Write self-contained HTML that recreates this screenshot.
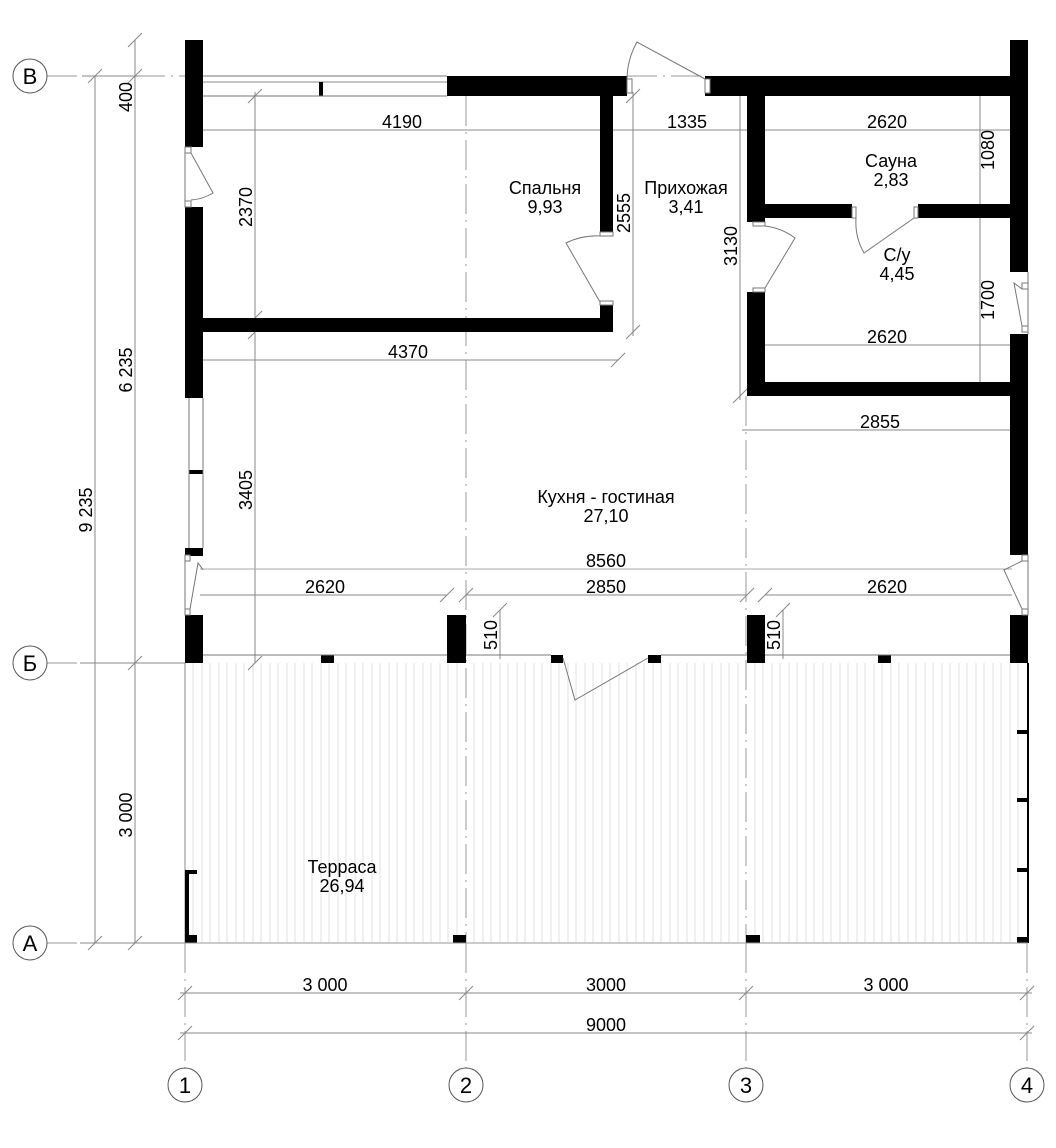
<!DOCTYPE html>
<html><head><meta charset="utf-8"><style>
html,body{margin:0;padding:0;background:#fff}
svg{display:block}
text{font-family:"Liberation Sans","DejaVu Sans",sans-serif;font-size:18px;fill:#000}
.d{stroke:#888;stroke-width:1;fill:none}
.g{stroke:#999;stroke-width:1;fill:none;stroke-dasharray:30 6 2 6}
.b{fill:#000}
.thin{stroke:#777;stroke-width:1;fill:none}
</style></head><body>
<svg width="1056" height="1148" viewBox="0 0 1056 1148" xmlns="http://www.w3.org/2000/svg">
<!-- grid lines -->
<line class="g" x1="47" y1="76" x2="185" y2="76"/>
<line class="g" x1="47" y1="663" x2="185" y2="663"/>
<line class="g" x1="47" y1="943" x2="185" y2="943"/>
<line class="g" x1="627" y1="76" x2="705" y2="76"/>
<line class="g" x1="466" y1="96" x2="466" y2="943"/>
<line class="g" x1="746" y1="396" x2="746" y2="943"/>
<line class="g" x1="185" y1="943" x2="185" y2="1068"/>
<line class="g" x1="466" y1="943" x2="466" y2="1068"/>
<line class="g" x1="746" y1="943" x2="746" y2="1068"/>
<line class="g" x1="1027" y1="943" x2="1027" y2="1068"/>
<!-- grid circles -->
<g fill="#fff" stroke="#555">
<circle cx="30" cy="76" r="17"/><circle cx="30" cy="663" r="17"/><circle cx="30" cy="943" r="17"/>
<circle cx="185" cy="1085" r="17"/><circle cx="466" cy="1085" r="17"/><circle cx="746" cy="1085" r="17"/><circle cx="1027" cy="1085" r="17"/>
</g>
<g text-anchor="middle">
<text x="30" y="84" style="font-size:22px">В</text><text x="30" y="671" style="font-size:22px">Б</text><text x="30" y="951" style="font-size:22px">А</text>
<text x="185" y="1093" style="font-size:22px">1</text><text x="466" y="1093" style="font-size:22px">2</text><text x="746" y="1093" style="font-size:22px">3</text><text x="1027" y="1093" style="font-size:22px">4</text>
</g>
<!-- terrace -->
<g stroke="#e2e2e2" stroke-width="1">
<line x1="193" y1="663" x2="193" y2="943"/><line x1="202" y1="663" x2="202" y2="943"/><line x1="210" y1="663" x2="210" y2="943"/><line x1="219" y1="663" x2="219" y2="943"/><line x1="227" y1="663" x2="227" y2="943"/><line x1="236" y1="663" x2="236" y2="943"/><line x1="244" y1="663" x2="244" y2="943"/><line x1="253" y1="663" x2="253" y2="943"/><line x1="261" y1="663" x2="261" y2="943"/><line x1="270" y1="663" x2="270" y2="943"/><line x1="278" y1="663" x2="278" y2="943"/><line x1="287" y1="663" x2="287" y2="943"/><line x1="295" y1="663" x2="295" y2="943"/><line x1="304" y1="663" x2="304" y2="943"/><line x1="312" y1="663" x2="312" y2="943"/><line x1="321" y1="663" x2="321" y2="943"/><line x1="329" y1="663" x2="329" y2="943"/><line x1="338" y1="663" x2="338" y2="943"/><line x1="346" y1="663" x2="346" y2="943"/><line x1="355" y1="663" x2="355" y2="943"/><line x1="363" y1="663" x2="363" y2="943"/><line x1="372" y1="663" x2="372" y2="943"/><line x1="380" y1="663" x2="380" y2="943"/><line x1="389" y1="663" x2="389" y2="943"/><line x1="397" y1="663" x2="397" y2="943"/><line x1="406" y1="663" x2="406" y2="943"/><line x1="414" y1="663" x2="414" y2="943"/><line x1="423" y1="663" x2="423" y2="943"/><line x1="431" y1="663" x2="431" y2="943"/><line x1="440" y1="663" x2="440" y2="943"/><line x1="448" y1="663" x2="448" y2="943"/><line x1="457" y1="663" x2="457" y2="943"/>
<line x1="474" y1="663" x2="474" y2="943"/><line x1="483" y1="663" x2="483" y2="943"/><line x1="491" y1="663" x2="491" y2="943"/><line x1="500" y1="663" x2="500" y2="943"/><line x1="508" y1="663" x2="508" y2="943"/><line x1="517" y1="663" x2="517" y2="943"/><line x1="525" y1="663" x2="525" y2="943"/><line x1="534" y1="663" x2="534" y2="943"/><line x1="542" y1="663" x2="542" y2="943"/><line x1="551" y1="663" x2="551" y2="943"/><line x1="559" y1="663" x2="559" y2="943"/><line x1="568" y1="663" x2="568" y2="943"/><line x1="576" y1="663" x2="576" y2="943"/><line x1="585" y1="663" x2="585" y2="943"/><line x1="593" y1="663" x2="593" y2="943"/><line x1="602" y1="663" x2="602" y2="943"/><line x1="610" y1="663" x2="610" y2="943"/><line x1="619" y1="663" x2="619" y2="943"/><line x1="627" y1="663" x2="627" y2="943"/><line x1="636" y1="663" x2="636" y2="943"/><line x1="644" y1="663" x2="644" y2="943"/><line x1="653" y1="663" x2="653" y2="943"/><line x1="661" y1="663" x2="661" y2="943"/><line x1="670" y1="663" x2="670" y2="943"/><line x1="678" y1="663" x2="678" y2="943"/><line x1="687" y1="663" x2="687" y2="943"/><line x1="695" y1="663" x2="695" y2="943"/><line x1="704" y1="663" x2="704" y2="943"/><line x1="712" y1="663" x2="712" y2="943"/><line x1="721" y1="663" x2="721" y2="943"/><line x1="729" y1="663" x2="729" y2="943"/><line x1="738" y1="663" x2="738" y2="943"/>
<line x1="755" y1="663" x2="755" y2="943"/><line x1="763" y1="663" x2="763" y2="943"/><line x1="772" y1="663" x2="772" y2="943"/><line x1="780" y1="663" x2="780" y2="943"/><line x1="789" y1="663" x2="789" y2="943"/><line x1="797" y1="663" x2="797" y2="943"/><line x1="806" y1="663" x2="806" y2="943"/><line x1="814" y1="663" x2="814" y2="943"/><line x1="823" y1="663" x2="823" y2="943"/><line x1="831" y1="663" x2="831" y2="943"/><line x1="840" y1="663" x2="840" y2="943"/><line x1="848" y1="663" x2="848" y2="943"/><line x1="857" y1="663" x2="857" y2="943"/><line x1="865" y1="663" x2="865" y2="943"/><line x1="874" y1="663" x2="874" y2="943"/><line x1="882" y1="663" x2="882" y2="943"/><line x1="891" y1="663" x2="891" y2="943"/><line x1="899" y1="663" x2="899" y2="943"/><line x1="908" y1="663" x2="908" y2="943"/><line x1="916" y1="663" x2="916" y2="943"/><line x1="925" y1="663" x2="925" y2="943"/><line x1="933" y1="663" x2="933" y2="943"/><line x1="942" y1="663" x2="942" y2="943"/><line x1="950" y1="663" x2="950" y2="943"/><line x1="959" y1="663" x2="959" y2="943"/><line x1="967" y1="663" x2="967" y2="943"/><line x1="976" y1="663" x2="976" y2="943"/><line x1="984" y1="663" x2="984" y2="943"/><line x1="993" y1="663" x2="993" y2="943"/><line x1="1001" y1="663" x2="1001" y2="943"/><line x1="1010" y1="663" x2="1010" y2="943"/><line x1="1018" y1="663" x2="1018" y2="943"/>
</g>
<line x1="185" y1="663" x2="185" y2="943" stroke="#888"/>
<line x1="1028" y1="663" x2="1028" y2="943" stroke="#000" stroke-width="2"/>
<rect class="b" x="185" y="870" width="4" height="73"/><rect class="b" x="185" y="870" width="12" height="4"/>
<rect class="b" x="185" y="935" width="12" height="8"/>
<rect class="b" x="453" y="935" width="13" height="8"/>
<rect class="b" x="746" y="935" width="14" height="8"/>
<rect class="b" x="1017" y="730" width="11" height="4"/><rect class="b" x="1017" y="798" width="11" height="4"/><rect class="b" x="1017" y="868" width="11" height="4"/><rect class="b" x="1017" y="937" width="11" height="6"/>
<line x1="185" y1="943" x2="1028" y2="943" stroke="#999"/>

<!-- dimension lines -->
<g class="d">
<line x1="95" y1="76" x2="95" y2="943"/><line x1="135" y1="40" x2="135" y2="943"/>
<line x1="88" y1="83" x2="102" y2="69"/><line x1="88" y1="950" x2="102" y2="936"/>
<line x1="128" y1="47" x2="142" y2="33"/><line x1="128" y1="83" x2="142" y2="69"/><line x1="128" y1="670" x2="142" y2="656"/><line x1="128" y1="950" x2="142" y2="936"/>
<line x1="82" y1="76" x2="140" y2="76" /><line x1="80" y1="663" x2="185" y2="663"/><line x1="80" y1="943" x2="185" y2="943"/>
<line x1="180" y1="993" x2="1032" y2="993"/><line x1="180" y1="1033" x2="1032" y2="1033"/>
<line x1="178" y1="1000" x2="192" y2="986"/><line x1="459" y1="1000" x2="473" y2="986"/><line x1="739" y1="1000" x2="753" y2="986"/><line x1="1020" y1="1000" x2="1034" y2="986"/>
<line x1="178" y1="1040" x2="192" y2="1026"/><line x1="1020" y1="1040" x2="1034" y2="1026"/>
<line x1="203" y1="130" x2="1010" y2="130"/>
<line x1="203" y1="82" x2="447" y2="82"/>
<line x1="255" y1="92" x2="255" y2="663"/>
<line x1="203" y1="360" x2="618" y2="360"/><line x1="611" y1="367" x2="625" y2="353"/>
<line x1="633" y1="92" x2="633" y2="336"/><line x1="626" y1="339" x2="640" y2="325"/><line x1="626" y1="103" x2="640" y2="89"/>
<line x1="740" y1="92" x2="740" y2="400"/><line x1="733" y1="403" x2="747" y2="389"/>
<line x1="980" y1="96" x2="980" y2="382"/>
<line x1="765" y1="345" x2="1010" y2="345"/>
<line x1="742" y1="430" x2="1010" y2="430"/>
<line x1="200" y1="569" x2="1012" y2="569" stroke="#aaa"/>
<line x1="200" y1="595" x2="447" y2="595"/><line x1="466" y1="595" x2="747" y2="595"/><line x1="765" y1="595" x2="1012" y2="595"/>
<line x1="440" y1="602" x2="454" y2="588"/><line x1="459" y1="602" x2="473" y2="588"/><line x1="740" y1="602" x2="754" y2="588"/><line x1="758" y1="602" x2="772" y2="588"/>
<line x1="500" y1="610" x2="500" y2="659"/><line x1="493" y1="617" x2="507" y2="603"/>
<line x1="783" y1="610" x2="783" y2="659"/><line x1="776" y1="617" x2="790" y2="603"/>
<line x1="248" y1="103" x2="262" y2="89"/><line x1="248" y1="325" x2="262" y2="311"/><line x1="248" y1="339" x2="262" y2="325"/><line x1="248" y1="670" x2="262" y2="656"/>
</g>
<!-- walls -->
<g class="b">
<rect x="185" y="40" width="18" height="107"/>
<rect x="185" y="207" width="18" height="191"/>
<rect x="185" y="548" width="18" height="8"/>
<rect x="185" y="615" width="18" height="48"/>
<rect x="189" y="470" width="14" height="4"/>
<rect x="447" y="76" width="180" height="20"/>
<rect x="319" y="82" width="4" height="14"/>
<rect x="705" y="76" width="305" height="20"/>
<rect x="1010" y="40" width="18" height="232"/>
<rect x="1010" y="334" width="18" height="221"/>
<rect x="1010" y="615" width="18" height="48"/>
<rect x="600" y="96" width="13" height="136"/>
<rect x="600" y="305" width="13" height="27"/>
<rect x="203" y="318" width="410" height="14"/>
<rect x="747" y="96" width="18" height="126"/>
<rect x="747" y="292" width="18" height="104"/>
<rect x="765" y="204" width="87" height="14"/>
<rect x="918" y="204" width="92" height="14"/>
<rect x="747" y="382" width="263" height="14"/>
<rect x="447" y="615" width="19" height="48"/>
<rect x="747" y="615" width="18" height="48"/>
<rect x="321" y="655" width="13" height="8"/>
<rect x="551" y="655" width="12" height="8"/>
<rect x="648" y="655" width="13" height="8"/>
<rect x="878" y="655" width="13" height="8"/>
</g>
<!-- windows -->
<g class="thin" stroke="#999">
<line x1="203" y1="76" x2="447" y2="76"/><line x1="203" y1="96" x2="447" y2="96"/>
<line x1="189" y1="398" x2="189" y2="548"/><line x1="203" y1="398" x2="203" y2="548"/>
<line x1="203" y1="655" x2="447" y2="655"/><line x1="466" y1="655" x2="551" y2="655"/><line x1="661" y1="655" x2="747" y2="655"/><line x1="765" y1="655" x2="1010" y2="655"/>
<line x1="185" y1="147" x2="185" y2="207"/><line x1="185" y1="555" x2="185" y2="615"/>
<line x1="1028" y1="272" x2="1028" y2="334"/><line x1="1028" y1="555" x2="1028" y2="615"/>
</g>
<!-- doors -->
<g class="thin">
<rect x="627" y="79" width="5" height="14" fill="#fff"/><rect x="705" y="79" width="5" height="14" fill="#fff"/>
<path d="M705 79 L637 42 A78 78 0 0 0 627 79"/>
<rect x="185" y="147" width="6" height="6" fill="#fff"/><rect x="185" y="201" width="6" height="6" fill="#fff"/>
<path d="M191 153 L213 193 A48 48 0 0 1 191 200"/>
<rect x="600" y="232" width="13" height="4" fill="#fff"/><rect x="600" y="301" width="13" height="4" fill="#fff"/>
<path d="M600 302 L566 243 A68 68 0 0 1 600 236"/>
<rect x="753" y="222" width="12" height="4" fill="#fff"/><rect x="753" y="288" width="12" height="4" fill="#fff"/>
<path d="M765 288 L795 238 A62 62 0 0 0 765 226"/>
<rect x="852" y="207" width="4" height="11" fill="#fff"/><rect x="914" y="207" width="4" height="11" fill="#fff"/>
<path d="M914 218 L864 253 A62 62 0 0 1 856 218"/>
<rect x="1022" y="283" width="6" height="6" fill="#fff"/><rect x="1022" y="326" width="6" height="6" fill="#fff"/>
<path d="M1022 289 L1014 283 L1022 326"/>
<rect x="185" y="555" width="5" height="6" fill="#fff"/><rect x="185" y="609" width="5" height="6" fill="#fff"/>
<path d="M190 609 L198 563 A50 50 0 0 1 203 570"/>
<rect x="1022" y="555" width="6" height="6" fill="#fff"/><rect x="1022" y="609" width="6" height="6" fill="#fff"/>
<path d="M1022 609 L1004 570 L1022 561"/>
<path d="M563 658 L575 700 L648 658"/>
</g>
<!-- labels -->
<g text-anchor="middle">
<text x="402" y="128">4190</text><text x="687" y="128">1335</text><text x="887" y="128">2620</text>
<text x="408" y="358">4370</text><text x="887" y="343">2620</text><text x="880" y="428">2855</text>
<text x="606" y="567">8560</text>
<text x="325" y="593">2620</text><text x="606" y="593">2850</text><text x="887" y="593">2620</text>
<text x="325" y="991">3 000</text><text x="606" y="991">3000</text><text x="886" y="991">3 000</text>
<text x="606" y="1031">9000</text>
<text transform="translate(132,97) rotate(-90)">400</text>
<text transform="translate(132,370) rotate(-90)">6 235</text>
<text transform="translate(92,510) rotate(-90)">9 235</text>
<text transform="translate(132,815) rotate(-90)">3 000</text>
<text transform="translate(252,207) rotate(-90)">2370</text>
<text transform="translate(252,490) rotate(-90)">3405</text>
<text transform="translate(630,213) rotate(-90)">2555</text>
<text transform="translate(737,246) rotate(-90)">3130</text>
<text transform="translate(994,150) rotate(-90)">1080</text>
<text transform="translate(994,300) rotate(-90)">1700</text>
<text transform="translate(497,635) rotate(-90)">510</text>
<text transform="translate(780,635) rotate(-90)">510</text>
<text x="545" y="194">Спальня</text><text x="545" y="213">9,93</text>
<text x="686" y="194">Прихожая</text><text x="686" y="213">3,41</text>
<text x="891" y="167">Сауна</text><text x="891" y="186">2,83</text>
<text x="897" y="261">С/у</text><text x="897" y="280">4,45</text>
<text x="606" y="503">Кухня - гостиная</text><text x="606" y="522">27,10</text>
<text x="342" y="873">Терраса</text><text x="342" y="892">26,94</text>
</g>
</svg>
</body></html>
